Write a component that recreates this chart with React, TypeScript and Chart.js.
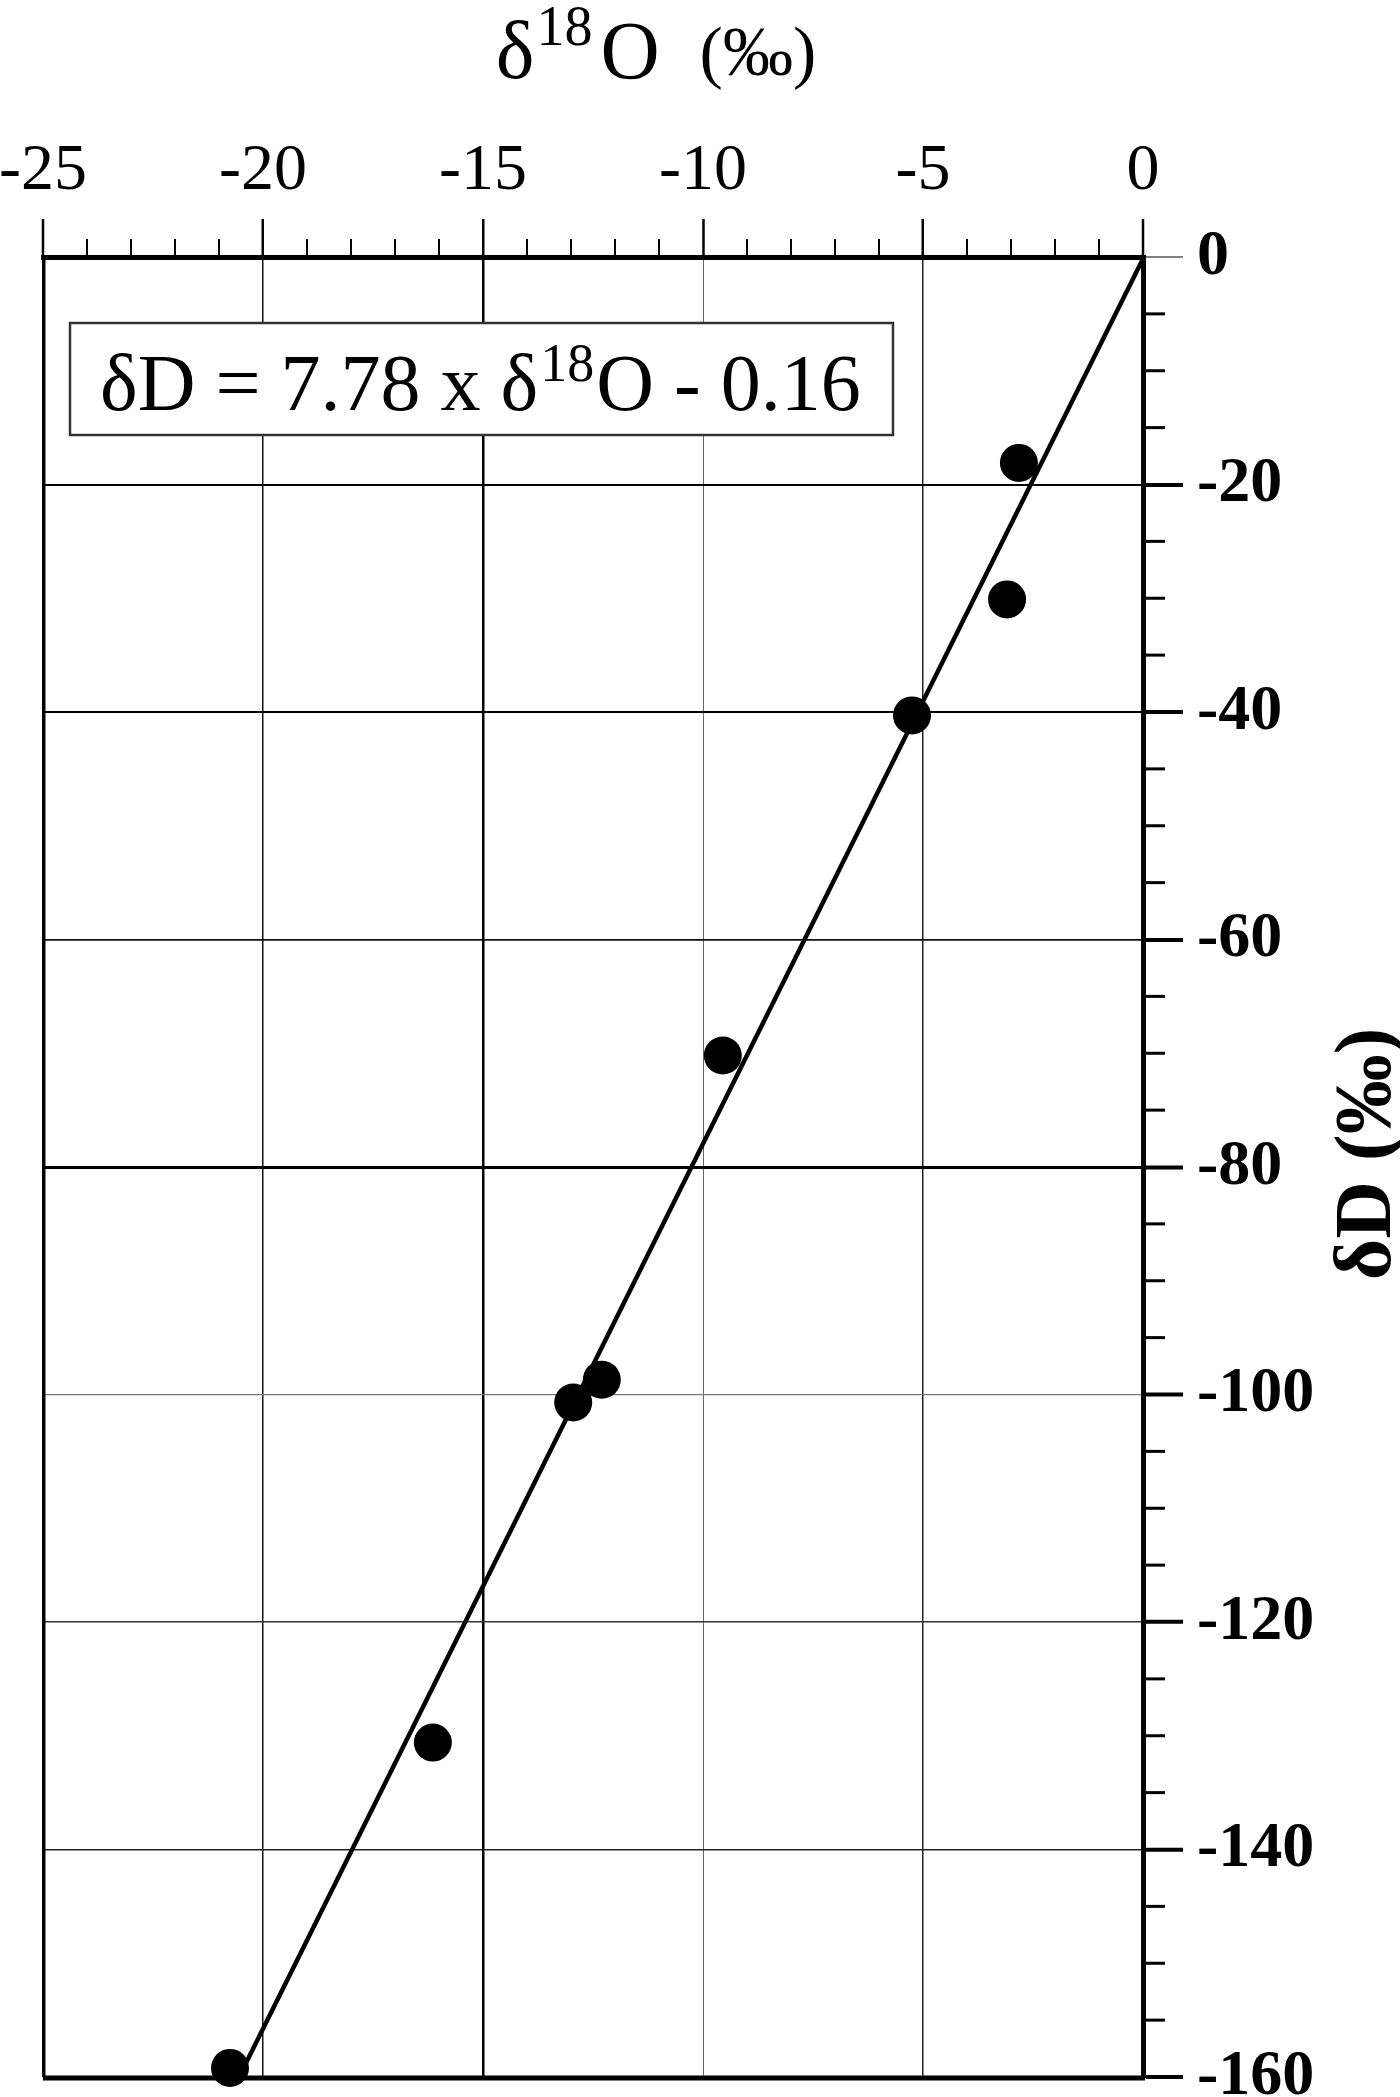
import React, { useEffect, useRef } from "react";
import { Chart, registerables } from "chart.js";

Chart.register(...registerables);

// ---- data ----
const d18O = [-2.82, -3.09, -5.25, -9.55, -12.3, -12.95, -16.14, -20.75];
const dD = [-18.1, -30.1, -40.3, -70.2, -98.7, -100.7, -130.6, -159.2];
const fitSlope = 7.78;
const fitIntercept = -0.16;
const xRange = [-25, 0];
const yRange = [-160, 0];
const xMajorStep = 5;
const xMinorStep = 1;
const yMajorStep = 20;
const yMinorStep = 5;
const equationMain = "δD = 7.78 x δ";
const equationSup = "18";
const equationTail = "O - 0.16";
const xTitleParts = ["δ", "18", "O", "(‰)"];
const yTitleText = "δD (‰)";

const SERIF = '"Liberation Serif", "DejaVu Serif", serif';

const xGridWidth: Record<string, number> = { "-20": 1.5, "-15": 2.5, "-10": 1, "-5": 1.5 };
const xGridColor: Record<string, string> = { "-20": "#111", "-15": "#000", "-10": "#666", "-5": "#222" };
const yGridWidth: Record<string, number> = { "-20": 2, "-40": 2, "-60": 1.8, "-80": 3, "-100": 1.2, "-120": 1.5, "-140": 1.5 };
const yGridColor: Record<string, string> = { "-20": "#000", "-40": "#000", "-60": "#111", "-80": "#000", "-100": "#777", "-120": "#333", "-140": "#222" };

const decorPlugin = {
  id: "decor",
  afterDraw(chart: any) {
    const ctx = chart.ctx as CanvasRenderingContext2D;
    const area = chart.chartArea;
    const xs = chart.scales.x;
    const ys = chart.scales.y;
    ctx.save();
    ctx.strokeStyle = "#000";
    ctx.lineCap = "butt";
    // left and bottom frame
    ctx.lineWidth = 3;
    ctx.beginPath();
    ctx.moveTo(area.left + 1, area.top);
    ctx.lineTo(area.left + 1, area.bottom);
    ctx.stroke();
    ctx.lineWidth = 5;
    ctx.beginPath();
    ctx.moveTo(area.left, area.bottom + 1);
    ctx.lineTo(area.right + 2, area.bottom + 1);
    ctx.stroke();
    // minor ticks top
    ctx.lineWidth = 2;
    for (let v = xRange[0]; v <= xRange[1]; v += xMinorStep) {
      if (v % xMajorStep === 0) continue;
      const px = xs.getPixelForValue(v);
      ctx.beginPath();
      ctx.moveTo(px, area.top);
      ctx.lineTo(px, area.top - 18);
      ctx.stroke();
    }
    // minor ticks right
    ctx.lineWidth = 3;
    for (let v = yRange[1]; v >= yRange[0]; v -= yMinorStep) {
      if (v % yMajorStep === 0) continue;
      const py = ys.getPixelForValue(v);
      ctx.beginPath();
      ctx.moveTo(area.right, py);
      ctx.lineTo(area.right + 22, py);
      ctx.stroke();
    }

    // equation box
    const bx = area.left + 27;
    const by = area.top + 66;
    const bw = 823;
    const bh = 112;
    ctx.fillStyle = "#fff";
    ctx.fillRect(bx, by, bw, bh);
    ctx.lineWidth = 2.5;
    ctx.strokeStyle = "#333";
    ctx.strokeRect(bx, by, bw, bh);
    ctx.fillStyle = "#000";
    ctx.textBaseline = "alphabetic";
    ctx.textAlign = "left";
    let tx = bx + 30;
    const base = by + 87;
    ctx.font = `80px ${SERIF}`;
    ctx.fillText(equationMain, tx, base);
    tx += ctx.measureText(equationMain).width + 2;
    ctx.font = `54px ${SERIF}`;
    ctx.fillText(equationSup, tx, base - 29);
    tx += ctx.measureText(equationSup).width + 2;
    ctx.font = `80px ${SERIF}`;
    ctx.fillText(equationTail, tx, base);

    // top title
    const tBase = 78;
    const sizes = [82, 56, 82, 70];
    const offs = [0, -33, 0, -3];
    const gaps = [2, 8, 40, 0];
    let total = 0;
    const widths: number[] = [];
    xTitleParts.forEach((p, i) => {
      ctx.font = `${sizes[i]}px ${SERIF}`;
      const w = ctx.measureText(p).width;
      widths.push(w);
      total += w + gaps[i];
    });
    let cx = 656 - total / 2;
    xTitleParts.forEach((p, i) => {
      ctx.font = `${sizes[i]}px ${SERIF}`;
      ctx.fillText(p, cx, tBase + offs[i]);
      cx += widths[i] + gaps[i];
    });

    // right title
    ctx.save();
    ctx.translate(1390, 1154);
    ctx.rotate(-Math.PI / 2);
    ctx.textAlign = "center";
    ctx.font = `bold 80px ${SERIF}`;
    ctx.fillText(yTitleText, 0, 0);
    ctx.restore();

    ctx.restore();
  },
};

export default function App() {
  const ref = useRef<HTMLCanvasElement>(null);
  useEffect(() => {
    document.body.style.margin = "0";
    const canvas = ref.current!;
    const lineX0 = 0;
    const lineX1 = (yRange[0] - fitIntercept) / fitSlope;
    const chart = new Chart(canvas, {
      type: "scatter",
      data: {
        datasets: [
          {
            data: [
              { x: lineX0, y: fitSlope * lineX0 + fitIntercept },
              { x: lineX1, y: fitSlope * lineX1 + fitIntercept },
            ],
            showLine: true,
            borderColor: "#000",
            borderWidth: 4.5,
            pointRadius: 0,
          },
          {
            data: d18O.map((x, i) => ({ x, y: dD[i] })),
            backgroundColor: "#000",
            borderWidth: 0,
            pointRadius: 19,
            clip: false,
          },
        ],
      },
      options: {
        responsive: false,
        animation: false,
        devicePixelRatio: 1,
        layout: { padding: { left: 43, right: 0, top: 0, bottom: 0 } },
        plugins: { legend: { display: false }, tooltip: { enabled: false } },
        scales: {
          x: {
            type: "linear",
            position: "top",
            min: xRange[0],
            max: xRange[1],
            afterFit: (s: any) => {
              s.height = 257;
              s.paddingLeft = 0;
              s.paddingRight = 0;
            },
            ticks: {
              stepSize: xMajorStep,
              autoSkip: false,
              maxRotation: 0,
              padding: 8,
              color: "#000",
              font: { family: SERIF, size: 66 },
              callback: (v: any) => String(v),
            },
            grid: {
              tickLength: 38,
              color: (c: any) => xGridColor[String(c.tick?.value)] ?? "#000",
              lineWidth: (c: any) => xGridWidth[String(c.tick?.value)] ?? 2,
              tickColor: "#000",
              tickWidth: 2.5,
            },
            border: { display: true, width: 5, color: "#000" },
          },
          y: {
            type: "linear",
            position: "right",
            min: yRange[0],
            max: yRange[1],
            afterFit: (s: any) => {
              s.width = 257;
              s.paddingTop = 0;
              s.paddingBottom = 20;
            },
            ticks: {
              stepSize: yMajorStep,
              autoSkip: false,
              padding: 14,
              color: "#000",
              font: { family: SERIF, size: 64, weight: "bold" },
              callback: (v: any) => String(v),
            },
            grid: {
              tickLength: 40,
              color: (c: any) => yGridColor[String(c.tick?.value)] ?? "#000",
              lineWidth: (c: any) => yGridWidth[String(c.tick?.value)] ?? 2,
              tickColor: (c: any) => (c.tick?.value === 0 ? "#555" : "#000"),
              tickWidth: (c: any) => (c.tick?.value === 0 ? 1.5 : 4),
            },
            border: { display: true, width: 5, color: "#000" },
          },
        },
      },
      plugins: [decorPlugin],
    });
    return () => chart.destroy();
  }, []);
  return (
    <canvas
      ref={ref}
      width={1400}
      height={2097}
      style={{ display: "block", width: 1400, height: 2097 }}
    />
  );
}
